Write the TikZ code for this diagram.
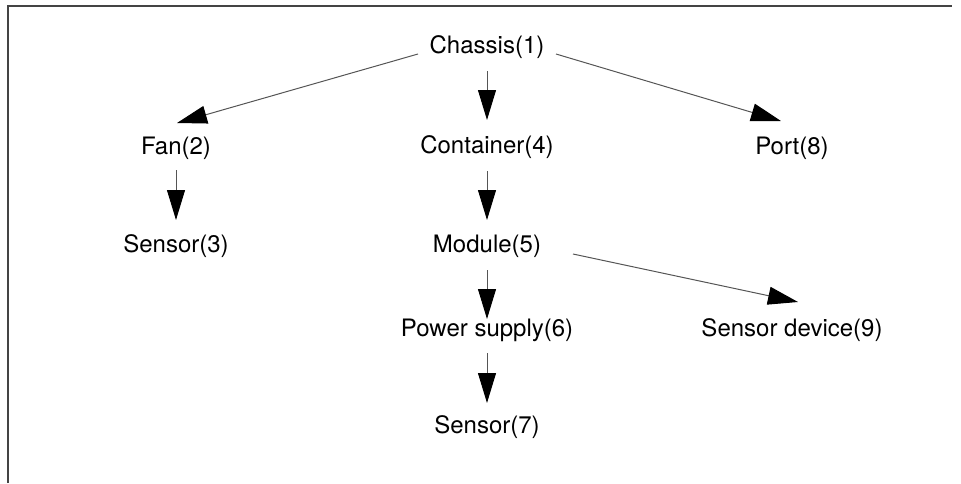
\documentclass[tikz,border=0pt]{standalone}
\usepackage{fontspec}
\setmainfont{TeX Gyre Heros}
\usetikzlibrary{arrows.meta}
\definecolor{framegray}{HTML}{444444}
\definecolor{shaftgray}{HTML}{555555}
\begin{document}
\begin{tikzpicture}[x=1pt,y=-1pt,
  item/.style={inner sep=0pt,font=\fontsize{24}{28}\selectfont},
  link/.style={draw=shaftgray,line width=1pt,
    -{Triangle[length=30pt,width=18pt,fill=black,color=black]}}]
  \useasboundingbox (0,0) rectangle (961,483);
  % open frame: top edge and left edge
  \draw[framegray,line width=2pt] (7.5,483) -- (7.5,6) -- (952,6);

  % tree nodes
  \node[item] (chassis)   at (487,47)  {Chassis(1)};
  \node[item] (fan)       at (176,148) {Fan(2)};
  \node[item] (container) at (487,147) {Container(4)};
  \node[item] (port)      at (792,148) {Port(8)};
  \node[item] (sensorA)   at (176,246) {Sensor(3)};
  \node[item] (module)    at (487,246) {Module(5)};
  \node[item] (power)     at (487,330) {Power supply(6)};
  \node[item] (sensordev) at (792,330) {Sensor device(9)};
  \node[item] (sensorB)   at (487,427) {Sensor(7)};

  % connectors (yshift is upward on the canvas)
  \draw[link] ([xshift=-69pt,yshift=-7pt]chassis.center) -- ([xshift=1pt,yshift=25pt]fan.center);
  \draw[link] ([xshift=69pt,yshift=-7pt]chassis.center) -- ([xshift=-11pt,yshift=27pt]port.center);
  \draw[link] ([yshift=-24pt]chassis.center) -- ([yshift=27pt]container.center);
  \draw[link] ([yshift=-22pt]fan.center) -- ([yshift=26pt]sensorA.center);
  \draw[link] ([yshift=-24pt]container.center) -- ([yshift=26pt]module.center);
  \draw[link] ([yshift=-24pt]module.center) -- ([yshift=11pt]power.center);
  \draw[link] ([xshift=86pt,yshift=-8pt]module.center) -- ([xshift=6pt,yshift=28pt]sensordev.center);
  \draw[link] ([yshift=-23pt]power.center) -- ([yshift=24pt]sensorB.center);
\end{tikzpicture}
\end{document}
